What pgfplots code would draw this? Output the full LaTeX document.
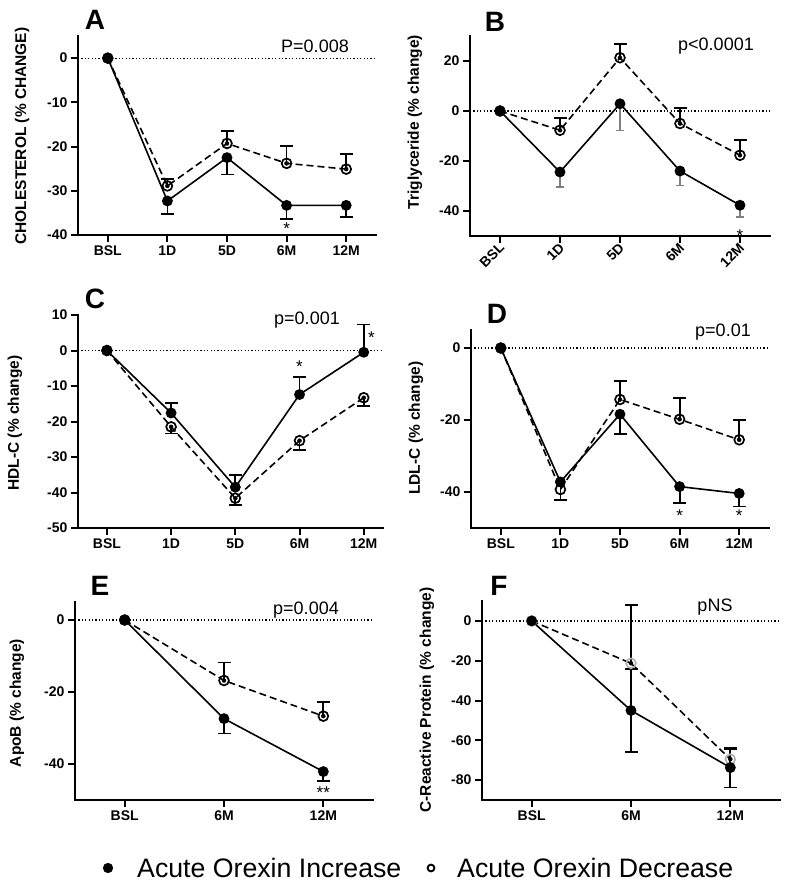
\documentclass[border=0pt]{standalone}
\usepackage{fontspec}
\setmainfont{Liberation Sans}
\usepackage{pgfplots}
\pgfplotsset{compat=1.18}
\pgfplotsset{
 panel/.style={
   scale only axis, anchor=south west, clip=false,
   axis x line*=bottom, axis y line*=left,
   axis line style={-, line width=2.6pt, line cap=rect},
   tick style={black, line width=2pt},
   major tick length=7pt,
   tick align=outside,
   ticklabel style={font=\fontsize{14}{14}\selectfont\bfseries},
   /pgf/number format/assume math mode=true,
   xtick={0,...,4}, xticklabels={BSL,1D,5D,6M,12M},
   xmin=-0.5, xmax=4.5,
 },
 zero/.style={black, line width=1.2pt, dash pattern=on 1.2pt off 2.2pt, forget plot},
 inc/.style={black, solid, line width=1.6pt, mark=*, mark size=4.6pt, mark options={solid, fill=black}},
 dec/.style={black, line width=1.6pt, dash pattern=on 7pt off 4pt, mark=o, mark size=4.9pt, mark options={solid, fill=white, line width=1.7pt}},
 ebar/.style={only marks, mark=none, forget plot, black,
   /pgfplots/error bars/y explicit, /pgfplots/error bars/y dir=#1,
   /pgfplots/error bars/error bar style={solid, line width=1.8pt},
   /pgfplots/error bars/error mark options={solid, rotate=90, line width=1.8pt, mark size=6.5pt}},
}
\tikzset{
 star/.style={font=\fontsize{17}{17}\selectfont, inner sep=0pt, yshift=-3.6pt},
 letter/.style={font=\fontsize{28}{28}\selectfont\bfseries, inner sep=0pt},
 pval/.style={font=\fontsize{18}{18}\selectfont, inner sep=0pt, anchor=base},
 ylab/.style={font=\fontsize{15.5}{16}\selectfont\bfseries, inner sep=0pt, rotate=90},
}
\begin{document}
\begin{tikzpicture}[x=1pt,y=1pt]
\useasboundingbox (0,0) rectangle (787,-884);

% ---------- A ----------
\begin{axis}[panel, at={(78pt,-235pt)}, width=298pt, height=199pt, ymin=-40, ymax=5, ytick={-40,-30,-20,-10,0}]
\addplot[zero] coordinates {(-0.5,0) (4.5,0)};
\addplot[ebar=plus] coordinates {(1,-28.9) +- (0,1.6) (2,-19.3) +- (0,2.9) (3,-23.8) +- (0,3.9) (4,-25.1) +- (0,3.4)};
\addplot[dec] coordinates {(0,0) (1,-28.9) (2,-19.3) (3,-23.8) (4,-25.1)};
\addplot[ebar=minus] coordinates {(1,-32.3) +- (0,3.0) (2,-22.5) +- (0,3.8) (3,-33.3) +- (0,3.0) (4,-33.3) +- (0,2.7)};
\addplot[inc] coordinates {(0,0) (1,-32.3) (2,-22.5) (3,-33.3) (4,-33.3)};
\node[star] at (axis cs:3,-37.7) {*};
\end{axis}

% ---------- B ----------
\begin{axis}[panel, at={(470pt,-236pt)}, width=300pt, height=200pt, ymin=-50, ymax=30, ytick={-40,-20,0,20},
  xticklabel style={rotate=45, anchor=east, xshift=3pt, yshift=-3pt}]
\addplot[zero] coordinates {(-0.5,0) (4.5,0)};
\addplot[ebar=plus] coordinates {(1,-7.7) +- (0,4.8) (2,21.3) +- (0,5.6) (3,-5.0) +- (0,6.3) (4,-17.7) +- (0,6.0)};
\addplot[dec] coordinates {(0,0) (1,-7.7) (2,21.3) (3,-5.0) (4,-17.7)};
\addplot[ebar=minus, /pgfplots/error bars/error bar style={gray, line width=1.2pt}, /pgfplots/error bars/error mark options={gray, rotate=90, line width=1.2pt, mark size=4pt}] coordinates {(1,-24.4) +- (0,6.0) (2,2.9) +- (0,10.6) (3,-24.0) +- (0,5.7) (4,-37.7) +- (0,4.7)};
\addplot[inc] coordinates {(0,0) (1,-24.4) (2,2.9) (3,-24.0) (4,-37.7)};
\node[star] at (axis cs:4,-48.3) {*};
\end{axis}

% ---------- C ----------
\begin{axis}[panel, at={(78pt,-528pt)}, width=305pt, height=213pt, xmin=-0.45, xmax=4.3, ymin=-50, ymax=10, ytick={-50,-40,...,10}]
\addplot[zero] coordinates {(-0.45,0) (4.3,0)};
\addplot[ebar=minus] coordinates {(1,-21.5) +- (0,1.9) (2,-41.6) +- (0,2.0) (3,-25.4) +- (0,2.6) (4,-13.3) +- (0,2.4)};
\addplot[dec] coordinates {(0,0) (1,-21.5) (2,-41.6) (3,-25.4) (4,-13.3)};
\addplot[ebar=plus] coordinates {(1,-17.6) +- (0,2.8) (2,-38.5) +- (0,3.5) (3,-12.4) +- (0,4.9) (4,-0.5) +- (0,7.8)};
\addplot[inc] coordinates {(0,0) (1,-17.6) (2,-38.5) (3,-12.4) (4,-0.5)};
\node[star] at (axis cs:3,-3.5) {*};
\node[star] at (axis cs:4.12,4.7) {*};
\end{axis}

% ---------- D ----------
\begin{axis}[panel, at={(471pt,-528pt)}, width=298pt, height=198pt, ymin=-50, ymax=5, ytick={-40,-20,0}]
\addplot[zero] coordinates {(-0.5,0) (4.5,0)};
\addplot[ebar=plus] coordinates {(2,-14.3) +- (0,5.1) (3,-19.8) +- (0,5.9) (4,-25.5) +- (0,5.5)};
\addplot[dec] coordinates {(0,0) (1,-39.3) (2,-14.3) (3,-19.8) (4,-25.5)};
\addplot[ebar=minus] coordinates {(1,-37.2) +- (0,5.0) (2,-18.4) +- (0,5.5) (3,-38.5) +- (0,4.6) (4,-40.4) +- (0,3.6)};
\addplot[inc] coordinates {(0,0) (1,-37.2) (2,-18.4) (3,-38.5) (4,-40.4)};
\node[star] at (axis cs:3,-45.5) {*};
\node[star] at (axis cs:4,-45.5) {*};
\end{axis}

% ---------- E ----------
\begin{axis}[panel, at={(75pt,-800pt)}, width=298pt, height=198pt, xmin=-0.5, xmax=2.5, xtick={0,1,2}, xticklabels={BSL,6M,12M}, ymin=-50, ymax=5, ytick={-40,-20,0}]
\addplot[zero] coordinates {(-0.5,0) (2.5,0)};
\addplot[ebar=plus] coordinates {(1,-16.8) +- (0,5.0) (2,-26.7) +- (0,3.9)};
\addplot[dec] coordinates {(0,0) (1,-16.8) (2,-26.7)};
\addplot[ebar=minus] coordinates {(1,-27.4) +- (0,4.1) (2,-42.1) +- (0,2.6)};
\addplot[inc] coordinates {(0,0) (1,-27.4) (2,-42.1)};
\node[star] at (axis cs:2,-47) {**};
\end{axis}

% ---------- F ----------
\begin{axis}[panel, at={(482pt,-800pt)}, width=298pt, height=199pt, xmin=-0.5, xmax=2.5, xtick={0,1,2}, xticklabels={BSL,6M,12M}, ymin=-90, ymax=10, ytick={-80,-60,...,0}]
\addplot[zero] coordinates {(-0.5,0) (2.5,0)};
\addplot[ebar=plus] coordinates {(1,-21.3) +- (0,29.1) (2,-69.5) +- (0,5.0)};
\addplot[dec, mark options={solid, draw=gray!60, fill=white, line width=1.7pt}] coordinates {(0,0) (1,-21.3) (2,-69.5)};
\addplot[ebar=both] coordinates {(1,-45.0) +- (0,20.8) (2,-73.7) +- (0,10.0)};
\addplot[inc] coordinates {(0,0) (1,-45.0) (2,-73.7)};
\end{axis}

% ---------- legend keys (page-sized hidden axis) ----------
\begin{axis}[at={(0pt,-884pt)}, anchor=south west, scale only axis, width=787pt, height=884pt,
  xmin=0, xmax=787, ymin=-884, ymax=0, hide axis, clip=false]
\addplot[only marks, mark=*, mark size=4.9pt, black] coordinates {(108,-868)};
\addplot[only marks, mark=o, mark size=3.4pt, black, line width=1.9pt] coordinates {(431,-868)};
\end{axis}

% ---------- letters ----------
\node[letter] at (95,-20) {A};
\node[letter] at (495,-22) {B};
\node[letter] at (95,-299) {C};
\node[letter] at (497,-314) {D};
\node[letter] at (100,-586) {E};
\node[letter] at (499,-586) {F};

% ---------- p values ----------
\node[pval] at (315,-52.7) {P=0.008};
\node[pval] at (716,-50) {p<0.0001};
\node[pval] at (307,-324.3) {p=0.001};
\node[pval] at (723,-336.7) {p=0.01};
\node[pval] at (306,-614.3) {p=0.004};
\node[pval] at (715,-611.7) {pNS};

% ---------- y labels ----------
\node[ylab] at (22,-136) {CHOLESTEROL (\% CHANGE)};
\node[ylab] at (415,-122) {Triglyceride (\% change)};
\node[ylab] at (15,-423) {HDL-C (\% change)};
\node[ylab] at (416,-428) {LDL-C (\% change)};
\node[ylab] at (17,-703) {ApoB (\% change)};
\node[ylab] at (427,-700) {C-Reactive Protein (\% change)};

% ---------- legend text ----------
\node[font=\fontsize{26.7}{27}\selectfont, inner sep=0pt, anchor=base west] at (137,-877) {Acute Orexin Increase};
\node[font=\fontsize{26.7}{27}\selectfont, inner sep=0pt, anchor=base west] at (457,-877) {Acute Orexin Decrease};
\end{tikzpicture}
\end{document}
